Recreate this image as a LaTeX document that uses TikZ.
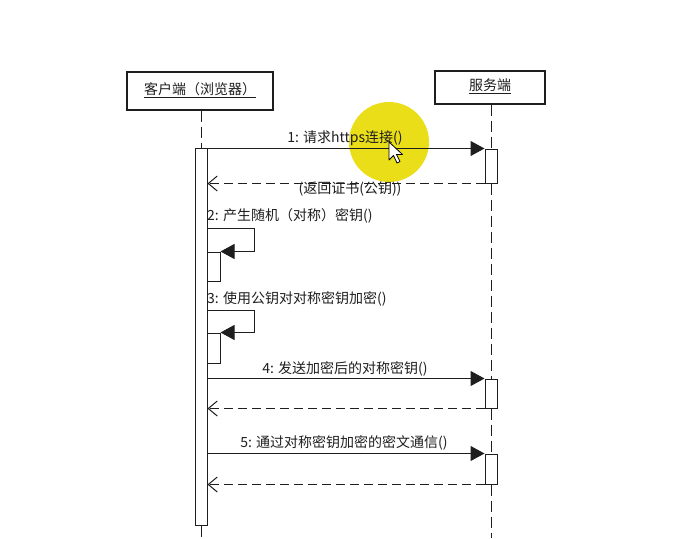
\documentclass[tikz,border=0pt]{standalone}
\usepackage{fontspec}
\setmainfont{Noto Sans CJK SC}
\usetikzlibrary{arrows.meta}
\definecolor{hl}{RGB}{234,222,24}
\definecolor{ln}{RGB}{30,30,30}
\tikzset{
  obj/.style={draw=ln, line width=1.3pt, fill=white, inner sep=0pt},
  bar/.style={draw=ln, line width=1pt, fill=white, inner sep=0pt, minimum width=12pt},
  life/.style={draw=ln, line width=1pt, dash pattern=on 11pt off 5pt},
  call/.style={draw=ln, line width=1pt, -{Triangle[length=14pt,width=15pt]}},
  ret/.style={draw=ln, line width=1pt, dash pattern=on 9pt off 5pt, -{Straight Barb[length=9pt,width=15pt,line width=1pt]}},
  lbl/.style={font=\fontsize{14}{16}\selectfont, text=ln, inner sep=0pt}
}
\begin{document}
\begin{tikzpicture}[x=1pt,y=-1pt]
\useasboundingbox (0,0) rectangle (676,538);
% highlight
\fill[hl] (389,142) circle (40);
% objects
\node[obj, minimum width=146pt, minimum height=38pt] (client) at (200,91) {};
\node[lbl] (clientt) at (200,90) {\underline{客户端（浏览器）}};
\node[obj, minimum width=110pt, minimum height=33pt] (server) at (490,87.5) {};
\node[lbl] (servert) at (490,86) {\underline{服务端}};
% activation bars
\node[bar, minimum height=377pt] (cbar) at (201,336.5) {};
\node[bar, minimum height=34pt] (s1) at (491,166) {};
\node[bar, minimum height=29pt] (s4) at (491,393.5) {};
\node[bar, minimum height=30pt] (s5) at (491,469) {};
\node[bar, minimum width=13pt, minimum height=29pt] (n2) at (213.5,266.5) {};
\node[bar, minimum width=13pt, minimum height=30pt] (n3) at (213.5,348) {};
% lifelines
\coordinate (cend) at (201,538);
\coordinate (send) at (491,538);
\draw[life] (client.south -| cbar.north) -- (cbar.north);
\draw[life] (cbar.south) -- (cend);
\draw[life] (server.south -| s1.north) -- (s1.north);
\draw[life] (s1.south) -- (s4.north);
\draw[life] (s4.south) -- (s5.north);
\draw[life] (s5.south) -- (send);
% message 1
\draw[call] (cbar.east |- s1.north) -- (s1.north west);
\node[lbl] (m1) at (345,138) {1: 请求https连接()};
\draw[ret] (s1.south west) -- (cbar.east |- s1.south);
\node[lbl] (r1) at (350,189) {(返回证书(公钥))};
% self message 2
\coordinate (a2) at (cbar.east |- 0,228);
\coordinate (b2) at (254,228);
\draw[call] (a2) -- (b2) -- (b2 |- n2.north) -- (n2.north east);
\node[lbl, anchor=west] (m2) at (207,216) {2: 产生随机（对称）密钥()};
% self message 3
\coordinate (a3) at (cbar.east |- 0,310);
\coordinate (b3) at (254,310);
\draw[call] (a3) -- (b3) -- (b3 |- n3.north) -- (n3.north east);
\node[lbl, anchor=west] (m3) at (207,299) {3: 使用公钥对对称密钥加密()};
% message 4
\draw[call] (cbar.east |- s4.north) -- (s4.north west);
\node[lbl] (m4) at (345,369) {4: 发送加密后的对称密钥()};
\draw[ret] (s4.south west) -- (cbar.east |- s4.south);
% message 5
\draw[call] (cbar.east |- s5.north) -- (s5.north west);
\node[lbl] (m5) at (344,443) {5: 通过对称密钥加密的密文通信()};
\draw[ret] (s5.south west) -- (cbar.east |- s5.south);
% cursor
\draw[fill=white, draw=black, line width=0.8pt, line join=round]
  (389,142) -- (389,160) -- (393.5,155.5) -- (397,163) -- (400,161.5) -- (396.5,154.5) -- (402.5,154.5) -- cycle;
\end{tikzpicture}
\end{document}
